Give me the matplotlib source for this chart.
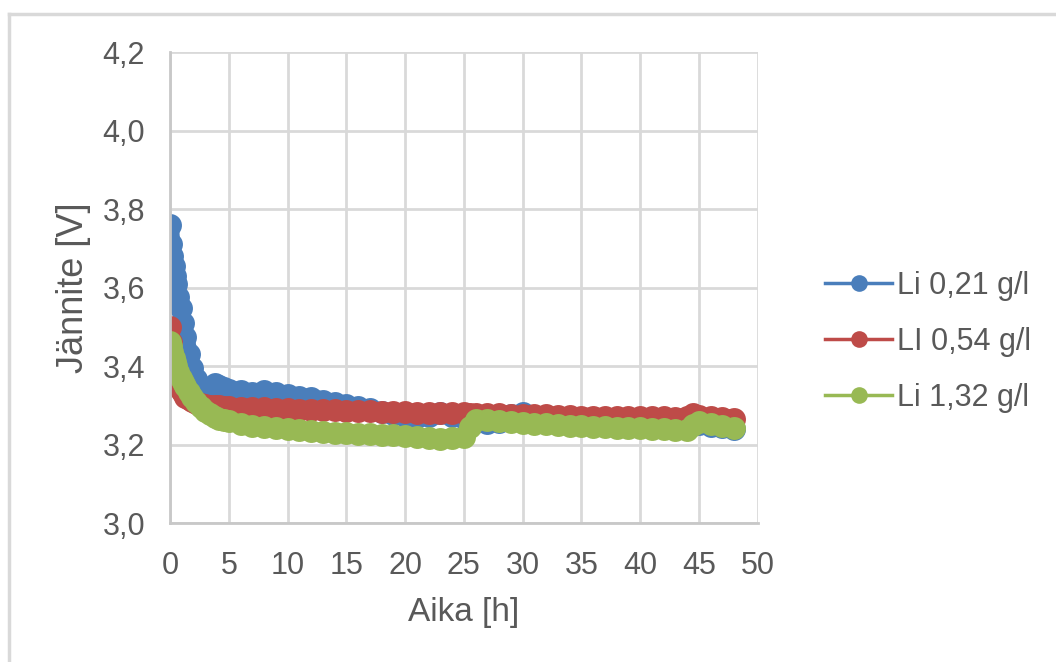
import matplotlib
matplotlib.use('Agg')
import matplotlib.pyplot as plt
from matplotlib.lines import Line2D
from matplotlib.ticker import FuncFormatter

plt.rcParams['font.family'] = ['Liberation Sans', 'DejaVu Sans']

# time [h], shared by all three series
time_h = [0, 0.1, 0.2, 0.3, 0.4, 0.5, 0.7, 0.9, 1.1, 1.3, 1.6, 1.9, 2.2, 2.6, 3.0, 3.4, 3.8, 4.2, 4.6,
          5, 6, 7, 8, 9, 10, 11, 12, 13, 14, 15, 16, 17, 18, 19, 20, 21, 22, 23, 24, 25,
          25.5,
          26, 27, 28, 29, 30, 31, 32, 33, 34, 35, 36, 37, 38, 39, 40, 41, 42, 43, 44,
          44.5,
          45, 46, 47, 48]

li_021 = [3.76, 3.71, 3.68, 3.655, 3.63, 3.61, 3.575, 3.548, 3.51, 3.475, 3.43, 3.395, 3.368, 3.35, 3.342, 3.345, 3.355, 3.348, 3.343,
          3.34, 3.336, 3.332, 3.336, 3.33, 3.325, 3.322, 3.318, 3.312, 3.306, 3.30, 3.296, 3.29, 3.283, 3.277, 3.273, 3.271, 3.272, 3.281, 3.273, 3.268,
          3.26,
          3.258, 3.256, 3.258, 3.275, 3.28, 3.262, 3.255, 3.252, 3.25, 3.25, 3.248, 3.247, 3.246, 3.245, 3.244, 3.243, 3.242, 3.242, 3.24,
          3.25,
          3.252, 3.247, 3.244, 3.24]

li_054 = [3.50, 3.46, 3.43, 3.41, 3.39, 3.375, 3.355, 3.34, 3.33, 3.322, 3.315, 3.31, 3.306, 3.303, 3.30, 3.299, 3.298, 3.297, 3.296,
          3.295, 3.294, 3.293, 3.292, 3.291, 3.29, 3.289, 3.288, 3.288, 3.287, 3.286, 3.285, 3.285, 3.284, 3.283, 3.282, 3.281, 3.28, 3.28, 3.279, 3.279,
          3.278,
          3.278, 3.277, 3.277, 3.276, 3.276, 3.275, 3.274, 3.273, 3.272, 3.271, 3.271, 3.27, 3.27, 3.27, 3.269, 3.269, 3.269, 3.268, 3.27,
          3.277,
          3.272, 3.269, 3.268, 3.266]

li_132 = [3.462, 3.45, 3.435, 3.42, 3.41, 3.40, 3.385, 3.37, 3.36, 3.35, 3.335, 3.32, 3.308, 3.295, 3.285, 3.277, 3.27, 3.266, 3.263,
          3.26, 3.253, 3.248, 3.244, 3.241, 3.239, 3.236, 3.234, 3.232, 3.23, 3.229, 3.227, 3.226, 3.224, 3.223, 3.222, 3.22, 3.217, 3.215, 3.217, 3.22,
          3.245,
          3.263, 3.262, 3.26, 3.257, 3.255, 3.253, 3.251, 3.249, 3.248, 3.246, 3.245, 3.244, 3.243, 3.242, 3.241, 3.24, 3.239, 3.238, 3.236,
          3.25,
          3.257, 3.252, 3.247, 3.243]

labels = ['Li 0,21 g/l', 'LI 0,54 g/l', 'Li 1,32 g/l']
colors = ['#4A7EBB', '#BE4B48', '#98B954']
text_color = '#595959'
grid_color = '#D9D9D9'

fig = plt.figure(figsize=(10.56, 6.62), dpi=100)
ax = fig.add_axes([170 / 1056, 1 - 523 / 662, (757.7 - 170) / 1056, (523 - 52) / 662])

# dense measurement points: thick line + big markers give the solid band look
for y, lab, c in zip([li_021, li_054, li_132], labels, colors):
    ax.plot(time_h, y, '-', color=c, lw=13, solid_capstyle='round', solid_joinstyle='round')
    ax.plot(time_h, y, 'o', color=c, ms=16.5, mew=0)

ax.set_xlim(0, 50)
ax.set_ylim(3.0, 4.2)
ax.set_xticks(range(0, 51, 5))
ax.set_yticks([3.0, 3.2, 3.4, 3.6, 3.8, 4.0, 4.2])
ax.yaxis.set_major_formatter(FuncFormatter(lambda v, p: f'{v:.1f}'.replace('.', ',')))
ax.grid(True, color=grid_color, lw=2)
ax.set_axisbelow(True)
for s in ['top', 'right']:
    ax.spines[s].set_visible(False)
for s in ['left', 'bottom']:
    ax.spines[s].set_color('#C8C8C8')
    ax.spines[s].set_linewidth(2)
ax.tick_params(length=0, labelsize=22, labelcolor=text_color)
ax.tick_params(axis='x', pad=20)
ax.tick_params(axis='y', pad=18)

ax.set_xlabel('Aika [h]', fontsize=24, color=text_color, labelpad=12)
ax.set_ylabel('Jännite [V]', fontsize=26, color=text_color, labelpad=8)

handles = [Line2D([], [], color=c, lw=2.5, marker='o', ms=12, mew=0) for c in colors]
fig.legend(handles, labels, loc='center left', bbox_to_anchor=(825 / 1056, 1 - 342 / 662),
           frameon=False, fontsize=22, labelcolor=text_color, handlelength=2.2,
           handletextpad=0.15, labelspacing=0.85, borderpad=0, borderaxespad=0)

# outer chart border
fig.add_artist(Line2D([9 / 1056, 9 / 1056], [0, 1 - 14 / 662], color=grid_color, lw=2.5))
fig.add_artist(Line2D([9 / 1056, 1], [1 - 14 / 662, 1 - 14 / 662], color=grid_color, lw=2.5))

fig.savefig('out.png', dpi=100)
